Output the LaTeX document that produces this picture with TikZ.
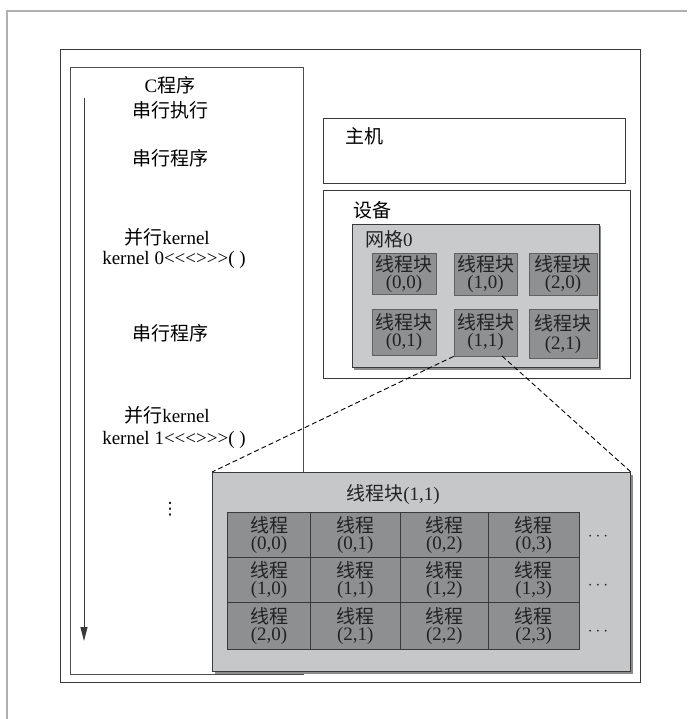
\documentclass[tikz,border=0pt]{standalone}
\usepackage{fontspec}
\setmainfont{Liberation Serif}
\newfontfamily\cjk{Noto Sans CJK SC}
\newfontfamily\djv{DejaVu Sans}
\usetikzlibrary{arrows.meta}
\definecolor{framegray}{HTML}{B0B0B0}
\definecolor{gridgray}{HTML}{C9CACC}
\definecolor{blkgray}{HTML}{8F9092}
\definecolor{biggray}{HTML}{C6C7C9}
\definecolor{cellgray}{HTML}{8E8F91}
\definecolor{linegray}{HTML}{3A3A3A}
\definecolor{txtdark}{HTML}{222222}
\begin{document}
\begin{tikzpicture}[x=1pt,y=-1pt,
  box/.style={draw=linegray, line width=1.1pt, inner sep=0pt, anchor=north west},
  lbl/.style={font=\fontsize{19}{23}\selectfont, inner sep=0pt, align=center},
  lblw/.style={font=\fontsize{19}{23}\selectfont, inner sep=0pt, anchor=west},
  gbox/.style={draw=linegray, line width=0.9pt, fill=gridgray, inner sep=0pt, anchor=north west},
  blk/.style={draw=linegray!80, line width=0.8pt, fill=blkgray, inner sep=0pt, align=center,
    text=txtdark, font=\fontsize{19}{17}\selectfont},
  cell/.style={draw=linegray, line width=0.9pt, fill=cellgray, inner sep=0pt, align=center,
    text=txtdark, font=\fontsize{19}{17}\selectfont},
  shd/.style={fill=black!45},
  dashline/.style={draw=black, line width=0.9pt, dash pattern=on 5pt off 3pt}
]
\useasboundingbox (0,0) rectangle (687,719);
\fill[white] (0,0) rectangle (687,719);
% light frame
\draw[framegray, line width=2pt] (6.5,719) -- (6.5,11) -- (687,11);

% outer box
\node[box, minimum width=580pt, minimum height=633pt] (outer) at (60,49) {};
% program box
\node[box, draw=linegray!90, line width=1pt, minimum width=233pt, minimum height=607pt] (prog) at (70,67) {};

% program texts
\node[lbl] (t1) at (170,85) {C{\cjk 程序}};
\node[lbl] (t2) at (170,110) {\cjk 串行执行};
\node[lbl] (t3) at (170,158) {\cjk 串行程序};
\node[lbl] (t4) at (167,237) {{\cjk 并行}kernel};
\node[lbl] (t5) at (174,260) {kernel 0<{}<{}<{}>{}>{}>( )};
\node[lbl] (t6) at (170,333) {\cjk 串行程序};
\node[lbl] (t7) at (167,415) {{\cjk 并行}kernel};
\node[lbl] (t8) at (174,440) {kernel 1<{}<{}<{}>{}>{}>( )};
\node[lbl, font=\djv\fontsize{17}{17}\selectfont] (t9) at (170,509) {⋮};

% arrow
\coordinate (arrS) at (84,98);
\coordinate (arrE) at (84,641);
\draw[linegray, line width=1pt, -{Triangle[length=14pt,width=7pt]}] (arrS) -- (arrE);

% host
\node[box, minimum width=302pt, minimum height=65pt] (host) at (323,118) {};
\node[lblw] (hostl) at (345,136) {\cjk 主机};

% device
\node[box, minimum width=307pt, minimum height=188pt] (dev) at (323,190) {};
\node[lblw] (devl) at (353,210) {\cjk 设备};

% grid 0
\fill[shd] (354,226) rectangle (601,369.5);
\node[gbox, minimum width=247pt, minimum height=143pt] (grid) at (352,224) {};
\node[lblw, text=txtdark] (gridl) at (365,239) {{\cjk 网格}0};

% blocks
\node[blk, minimum width=64pt, minimum height=41pt] (b00) at (404,274) {{\cjk 线程块}\\(0,0)};
\node[blk, minimum width=63pt, minimum height=42pt] (b10) at (485.5,274) {{\cjk 线程块}\\(1,0)};
\node[blk, minimum width=68pt, minimum height=42pt] (b20) at (563,274) {{\cjk 线程块}\\(2,0)};
\node[blk, minimum width=64pt, minimum height=46pt] (b01) at (404,332.5) {{\cjk 线程块}\\(0,1)};
\node[blk, minimum width=63pt, minimum height=47pt] (b11) at (485.5,332.5) {{\cjk 线程块}\\(1,1)};
\node[blk, minimum width=68pt, minimum height=49pt] (b21) at (563,334) {{\cjk 线程块}\\[2pt](2,1)};

% dashed zoom lines
\coordinate (zr) at (502,356);

% big block
\fill[shd] (214.5,474.5) rectangle (632.5,673.5);
\node[gbox, fill=biggray, minimum width=418pt, minimum height=199pt] (big) at (212,472) {};
\draw[dashline] (b11.south west) -- (big.north west);
\draw[dashline] (zr) -- (big.north east);
\node[lbl, text=txtdark] (bigl) at (393,495) {{\cjk 线程块}(1,1)};

% thread cells
\foreach \r/\ya/\yb in {0/512.7/557.3, 1/557.3/602.3, 2/602.3/649.3}{
  \foreach \c/\xa/\xb in {0/227.7/310.3, 1/310.3/400.3, 2/400.3/488.3, 3/488.3/579}{
    \node[cell, minimum width={(\xb-\xa)*1pt}, minimum height={(\yb-\ya)*1pt}]
      (c\r\c) at ({(\xa+\xb)/2},{(\ya+\yb)/2}) {{\cjk 线程}\\(\r,\c)};
  }
}
\node[lbl, text=txtdark, font=\fontsize{19}{19}\selectfont] (d0) at (598,537) {$\cdots$};
\node[lbl, text=txtdark, font=\fontsize{19}{19}\selectfont] (d1) at (598,586) {$\cdots$};
\node[lbl, text=txtdark, font=\fontsize{19}{19}\selectfont] (d2) at (598,632) {$\cdots$};
\end{tikzpicture}
\end{document}
